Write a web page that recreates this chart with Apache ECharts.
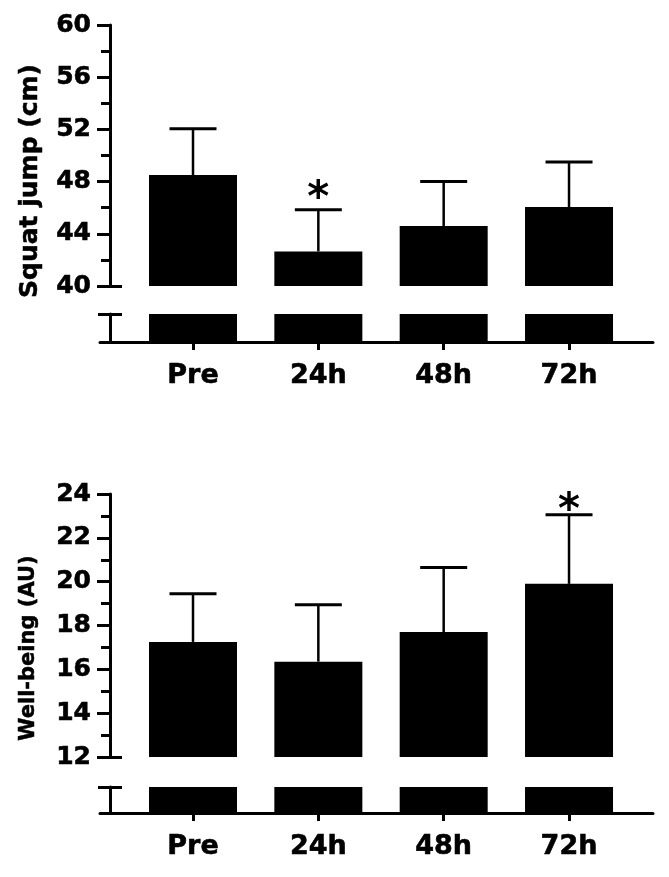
<!DOCTYPE html>
<html><head><meta charset="utf-8">
<script src="https://cdn.jsdelivr.net/npm/echarts@6/dist/echarts.min.js"></script>
<style>html,body{margin:0;padding:0;background:#fff}#c{width:669px;height:877px}</style>
</head><body><div id="c"></div>
<script>
// ---- data ----
const categories = ['Pre', '24h', '48h', '72h'];
const jumpMean  = [48.5, 42.65, 44.6, 46.05];
const jumpUpper = [52.05, 45.85, 48.0, 49.5];
const jumpSig   = ['', '*', '', ''];
const jumpTicks = [40, 44, 48, 52, 56, 60];
const wellMean  = [17.25, 16.35, 17.7, 19.9];
const wellUpper = [19.45, 18.95, 20.65, 23.05];
const wellSig   = ['', '', '', '*'];
const wellTicks = [12, 14, 16, 18, 20, 22, 24];

// ---- layout / style ----
const FONT = 'DejaVu Sans';
const L = 100, W = 553;
const X_MIN = -0.742, X_MAX = 3.67;
const panels = [
  {mean: jumpMean, upper: jumpUpper, sig: jumpSig, ticks: jumpTicks, title: 'Squat jump (cm)',
   mainTop: 25, mainH: 261, stubTop: 314, stubH: 28, titleX: 30, titleY: 181, titleSize: 25, sigOff: 10},
  {mean: wellMean, upper: wellUpper, sig: wellSig, ticks: wellTicks, title: 'Well-being (AU)',
   mainTop: 494, mainH: 263, stubTop: 787, stubH: 26, titleX: 29, titleY: 648, titleSize: 21, sigOff: 3}
];
const lineStyle = {color: '#000', width: 3};
const heavy = {textBorderColor: '#000', textBorderWidth: 0.6};

const grid = [], xAxis = [], yAxis = [], series = [], graphic = [];
panels.forEach((p, k) => {
  const gMain = grid.length;
  grid.push({left: L, top: p.mainTop, width: W, height: p.mainH});
  const gStub = grid.length;
  grid.push({left: L, top: p.stubTop, width: W, height: p.stubH});

  const tMin = p.ticks[0], tMax = p.ticks[p.ticks.length - 1], tInt = p.ticks[1] - p.ticks[0];

  // x axes
  const xMain = xAxis.length;
  xAxis.push({gridIndex: gMain, type: 'value', min: X_MIN, max: X_MAX, show: false});
  const xStub = xAxis.length;
  xAxis.push({gridIndex: gStub, type: 'value', min: X_MIN, max: X_MAX, position: 'bottom',
    axisLine: {show: true, onZero: false, lineStyle: lineStyle},
    axisTick: {show: true, length: 8, customValues: categories.map((c, i) => i), lineStyle: lineStyle},
    axisLabel: Object.assign({customValues: categories.map((c, i) => i), formatter: v => categories[Math.round(v)] || '',
      fontSize: 27, fontWeight: 'bold', fontFamily: FONT, color: '#000', margin: 20}, heavy),
    splitLine: {show: false}});

  // y axes main
  const yMain = yAxis.length;
  yAxis.push({gridIndex: gMain, type: 'value', min: tMin, max: tMax, interval: tInt, position: 'left', offset: -10,
    axisLine: {show: true, onZero: false, lineStyle: lineStyle},
    axisTick: {show: true, length: 13, lineStyle: lineStyle},
    minorTick: {show: true, splitNumber: 2, length: 9, lineStyle: lineStyle},
    axisLabel: Object.assign({fontSize: 25, fontWeight: 'bold', fontFamily: FONT, color: '#000', margin: 19}, heavy),
    splitLine: {show: false}});
  yAxis.push({gridIndex: gMain, type: 'value', min: tMin, max: tMax, position: 'left', offset: -10,
    axisLine: {show: false, onZero: false}, axisLabel: {show: false}, splitLine: {show: false},
    axisTick: {show: true, inside: true, length: 12, customValues: [tMin], lineStyle: lineStyle}});
  // y axes stub
  const yStub = yAxis.length;
  yAxis.push({gridIndex: gStub, type: 'value', min: 0, max: 1, position: 'left', offset: -10,
    axisLine: {show: true, onZero: false, lineStyle: lineStyle}, axisLabel: {show: false}, splitLine: {show: false},
    axisTick: {show: true, length: 12, customValues: [1], lineStyle: lineStyle}});
  yAxis.push({gridIndex: gStub, type: 'value', min: 0, max: 1, position: 'left', offset: -10,
    axisLine: {show: false, onZero: false}, axisLabel: {show: false}, splitLine: {show: false},
    axisTick: {show: true, inside: true, length: 12, customValues: [1], lineStyle: lineStyle}});

  const barData = p.mean.map((v, i) => [i, v]);
  series.push({type: 'bar', xAxisIndex: xMain, yAxisIndex: yMain, data: barData, barWidth: 88,
    itemStyle: {color: '#000'}, clip: true});
  series.push({type: 'bar', xAxisIndex: xStub, yAxisIndex: yStub, data: barData, barWidth: 88,
    itemStyle: {color: '#000'}, clip: true});
  series.push({type: 'custom', xAxisIndex: xMain, yAxisIndex: yMain, z: 3,
    data: p.mean.map((v, i) => [i, v, p.upper[i]]),
    renderItem: (params, api) => {
      const i = api.value(0);
      const p0 = api.coord([i, api.value(1)]);
      const p1 = api.coord([i, api.value(2)]);
      const half = 23.5;
      const children = [
        {type: 'line', shape: {x1: p0[0], y1: p0[1], x2: p1[0], y2: p1[1]}, style: {stroke: '#000', lineWidth: 2.5}},
        {type: 'line', shape: {x1: p1[0] - half, y1: p1[1], x2: p1[0] + half, y2: p1[1]}, style: {stroke: '#000', lineWidth: 3}}
      ];
      const s = p.sig[params.dataIndex];
      if (s) children.push({type: 'text', x: p1[0], y: p1[1] - p.sigOff,
        style: {text: s, fontSize: 42, fontWeight: 'bold', fontFamily: FONT, fill: '#000', align: 'center', verticalAlign: 'middle'}});
      return {type: 'group', children};
    }});

  graphic.push({type: 'text', x: p.titleX, y: p.titleY, rotation: Math.PI / 2,
    style: {text: p.title, fontSize: p.titleSize, fontWeight: 'bold', fontFamily: FONT, fill: '#000',
      align: 'center', verticalAlign: 'middle', stroke: '#000', lineWidth: 0.5}});
});

const chart = echarts.init(document.getElementById('c'), null, {renderer: 'canvas'});
chart.setOption({animation: false, backgroundColor: '#fff', grid, xAxis, yAxis, series, graphic});
</script>
</body></html>
